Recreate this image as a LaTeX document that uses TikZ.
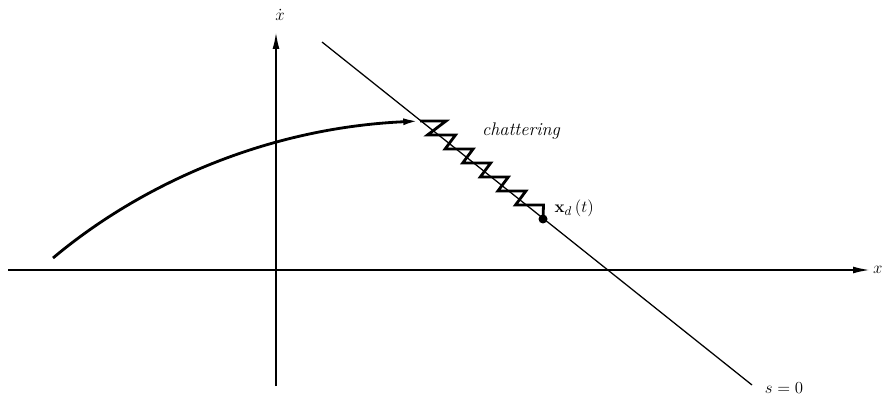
\documentclass[tikz,border=0pt]{standalone}
\usepackage{amsmath}
\usetikzlibrary{arrows.meta, positioning}

\begin{document}
\begin{tikzpicture}[x=0.025cm, y=-0.025cm, >={Latex[length=4.2mm, width=1.7mm]}]
    % Styles
    \tikzstyle{axis} = [line width=1.3pt, ->]
    \tikzstyle{surface} = [line width=0.9pt]
    \tikzstyle{traj} = [line width=2pt, ->]
    \tikzstyle{chatter} = [line width=2pt, line join=miter]
    \tikzstyle{lbl} = [inner sep=1pt, font=\fontsize{13}{15}\selectfont]

    \useasboundingbox (0,0) rectangle (882,400);

    % Coordinates
    \coordinate (xl) at (8,270);
    \coordinate (xr) at (870,270);
    \coordinate (yb) at (276,386);
    \coordinate (yt) at (276,32);
    \coordinate (s1) at (322,42);
    \coordinate (s2) at (752,385);
    \coordinate (start) at (53,258);
    \coordinate (tip) at (420,121);
    \coordinate (xd) at (543,219);

    % Axes
    \draw [axis] (xl) -- (xr);
    \draw [axis] (yb) -- (yt);
    \node (xlab) [lbl, right=1pt of xr] {$x$};
    \node (ylab) [lbl] at (280,15) {$\dot{x}$};

    % Sliding surface
    \draw [surface] (s1) -- (s2);
    \node (slab) [lbl, below right=-3pt and 8pt of s2] {$s = 0$};

    % Trajectory reaching the surface
    \draw [traj] (start) .. controls (140,185) and (265,128) .. (tip);

    % Chattering along s = 0
    \draw [chatter] (tip) -- ++(26,0) -- ++(-18.5,14)
        \foreach \k in {1,...,5} { -- ++(28,0) -- ++(-10.4,14) }
        -- ++(28,0) -- (xd);
    \fill (xd) circle (4.5);

    \node (chat) [lbl, font=\fontsize{13}{15}\selectfont\itshape] at (521,131) {chattering};
    \node (xdlab) [lbl, anchor=west] at (553,208) {$\mathbf{x}_d\,(t)$};

\end{tikzpicture}
\end{document}
